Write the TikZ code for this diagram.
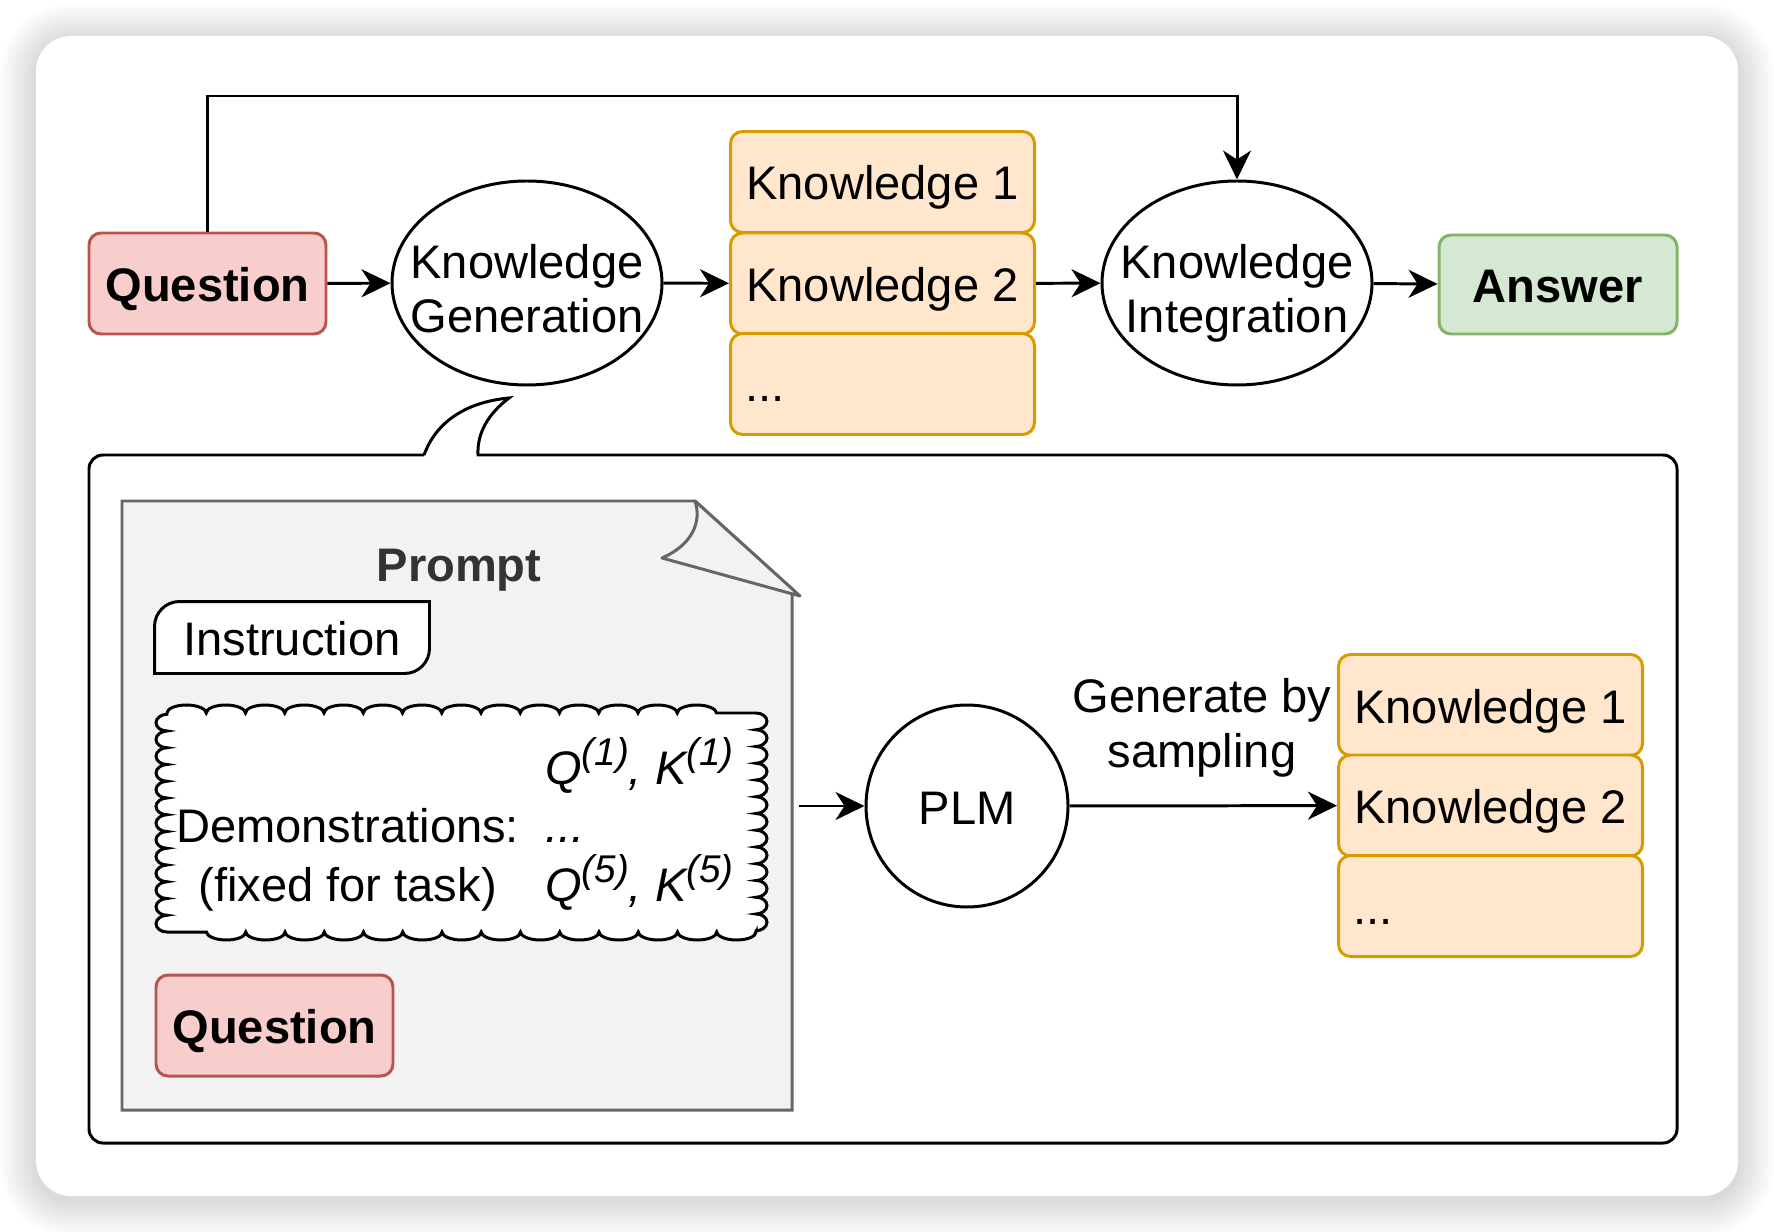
\documentclass[tikz,border=0pt]{standalone}
\usepackage{fontspec}
\setmainfont{Liberation Sans}
\usetikzlibrary{arrows.meta,shapes.geometric,decorations.pathmorphing}
\definecolor{qfill}{HTML}{F8CECC}
\definecolor{qline}{HTML}{B85450}
\definecolor{kfill}{HTML}{FFE6CC}
\definecolor{kline}{HTML}{D79B00}
\definecolor{afill}{HTML}{D5E8D4}
\definecolor{aline}{HTML}{82B366}
\definecolor{pagefill}{HTML}{F2F2F2}
\definecolor{pageline}{HTML}{666666}
\definecolor{darktext}{HTML}{333333}
\newcommand\supx[1]{\raisebox{0.4em}[0pt][0pt]{\fontsize{11pt}{13pt}\selectfont #1}}
\begin{document}
\begin{tikzpicture}[x=0.1mm, y=-0.1mm, line width=0.85pt,
    font=\fontsize{13.4pt}{15.6pt}\selectfont,
    every node/.style={inner sep=0pt},
    onerow/.style={text height=3.6mm, text depth=0pt},
    qbox/.style={onerow, draw=qline, fill=qfill, rounded corners=1.2mm, minimum width=23.7mm, minimum height=10.1mm, font=\fontsize{13.4pt}{15.6pt}\selectfont\bfseries},
    kbox/.style={onerow, draw=kline, fill=kfill, rounded corners=1.2mm, minimum width=30.4mm, minimum height=10.1mm},
    dotbox/.style={kbox, text width=27.4mm, align=left},
    abox/.style={onerow, draw=aline, fill=afill, rounded corners=1.2mm, minimum width=23.8mm, minimum height=9.9mm, font=\fontsize{13.4pt}{15.6pt}\selectfont\bfseries},
    proc/.style={draw, ellipse, minimum width=27mm, minimum height=20.4mm, inner xsep=-6mm, inner ysep=-2mm, text height=10mm, text depth=0pt, align=center},
    arr/.style={-{Stealth[length=2.9mm, width=2.8mm, inset=0.9mm]}},
    topbump/.style={decoration={bumps, segment length=7.85mm, amplitude=0.8mm}},
    sidebump/.style={decoration={bumps, segment length=3.35mm, amplitude=1.1mm}}
]
    \useasboundingbox (0,0) rectangle (1774,1232);

    % card and its shadow
    \foreach \i in {1,...,12}{
        \pgfmathsetmacro\rr{3.5+0.3*\i}
        \fill[black, opacity=0.013, rounded corners=\rr mm] (36-3*\i, 40-3*\i) rectangle (1738+3*\i, 1200+3*\i);
    }
    \fill[white, rounded corners=3.5mm] (36,36) rectangle (1738,1196);

    % top row
    \node[qbox] (question) at (207.5,283.5) {Question};
    \node[proc] (kg) at (527,283) {Knowledge\\Generation};
    \node[kbox] (k1) at (882.5,182) {Knowledge 1};
    \node[kbox] (k2) at (882.5,283.5) {Knowledge 2};
    \node[dotbox] (kdots) at (882.5,384) {...};
    \node[proc] (ki) at (1237,283) {Knowledge\\Integration};
    \node[abox] (answer) at (1558,284.5) {Answer};
    \coordinate (bend) at (1237,96);

    \draw[arr] (question) -- (kg);
    \draw[arr] (kg) -- (k2);
    \draw[arr] (k2) -- (ki);
    \draw[arr] (ki) -- (answer);
    \draw[arr] (question.north) |- (bend) -- (ki.north);

    % callout panel
    \draw (424,455) .. controls (436,422) and (466,402) .. (509,398)
        .. controls (488,414) and (477,433) .. (478,455)
        [rounded corners=1.4mm] -- (1677,455) -- (1677,1143) -- (89,1143) -- (89,455) [sharp corners] -- (424,455);

    % prompt page
    \draw[draw=pageline, fill=pagefill] (122,501) -- (695,501) -- (792,589) -- (792,1110) -- (122,1110) -- cycle;
    \draw[draw=pageline, fill=pagefill, line join=round] (695,501) .. controls (702,522) and (692,545) .. (662,558) -- (800,596) -- cycle;
    \node[onerow, font=\fontsize{13.4pt}{15.6pt}\selectfont\bfseries, text=darktext] (prompt) at (459,563) {Prompt};

    \node[minimum width=27.2mm, minimum height=6.9mm] (instr) at (292,637.5) {};
    \draw[fill=white] (instr.south west) -- ([yshift=-2.5mm]instr.north west) arc[start angle=180, end angle=90, radius=2.5mm]
        -- (instr.north east) -- ([yshift=2.5mm]instr.south east) arc[start angle=0, end angle=-90, radius=2.5mm] -- cycle;
    \node[onerow] at (instr) {Instruction};

    \draw[fill=white] (167,713) decorate[topbump]{-- (756,713)} decorate[sidebump]{-- (756,932)}
        decorate[topbump]{-- (167,932)} decorate[sidebump]{-- (167,713)};
    \node (demo) at (455,832) {\begin{tabular}{@{}c@{\hspace{2.6mm}}l@{}}
        & \textit{Q\supx{(1)}, K\supx{(1)}}\\[0.4mm]
        Demonstrations: & \textit{...}\\[0.4mm]
        (fixed for task) & \textit{Q\supx{(5)}, K\supx{(5)}}
    \end{tabular}};

    \node[qbox] (question2) at (274.5,1025.5) {Question};

    % generation
    \coordinate (pin) at (799,806);
    \node[onerow, draw, circle, minimum size=20.2mm] (plm) at (967,806) {PLM};
    \node[kbox] (lk1) at (1490.5,705) {Knowledge 1};
    \node[kbox] (lk2) at (1490.5,805.5) {Knowledge 2};
    \node[dotbox] (ldots) at (1490.5,906) {...};
    \node[align=center, text depth=0pt] (genlabel) at (1202,723) {Generate by\\sampling};

    \draw[arr] (pin) -- (plm);
    \draw[arr] (plm) -- (lk2);
\end{tikzpicture}
\end{document}
